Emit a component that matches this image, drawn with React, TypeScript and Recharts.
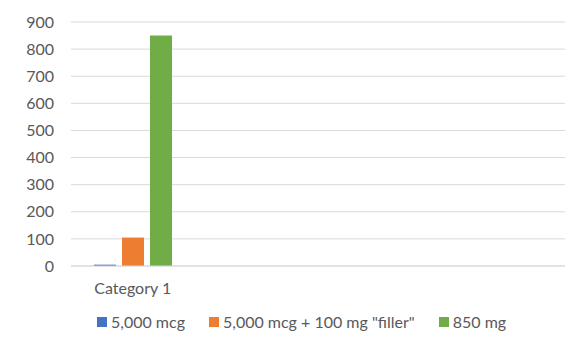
import React from "react";
import { BarChart, Bar, XAxis, YAxis, CartesianGrid, Legend } from "recharts";

const categories = ["Category 1", "", "", ""];
const seriesNames = ["5,000 mcg", "5,000 mcg + 100 mg \"filler\"", "850 mg"];
const mcg5000 = [5, null, null, null];
const mcg5000Filler = [105, null, null, null];
const mg850 = [850, null, null, null];
const yTicks = [0, 100, 200, 300, 400, 500, 600, 700, 800, 900];

const colors = ["#4472C4", "#ED7D31", "#70AD47"];
const keys = ["s0", "s1", "s2"];

const data = categories.map((c, i) => ({
  name: c,
  s0: mcg5000[i],
  s1: mcg5000Filler[i],
  s2: mg850[i],
}));

const FONT = "Lato, 'Open Sans', sans-serif";
const TEXT = "#595959";

const renderLegend = (props: any) => {
  const { payload } = props;
  return (
    <div style={{ display: "flex", alignItems: "center", fontFamily: FONT, fontSize: 16, color: TEXT }}>
      {payload.map((p: any, i: number) => (
        <div key={i} style={{ display: "flex", alignItems: "center", marginRight: 24, whiteSpace: "nowrap" }}>
          <span style={{ display: "inline-block", width: 10, height: 10, background: p.color, marginRight: 4 }} />
          <span>{p.value}</span>
        </div>
      ))}
    </div>
  );
};

export default function App() {
  return (
    <div style={{ position: "absolute", left: 0, top: 0, width: 577, height: 354, background: "#fff" }}>
      <BarChart
        width={577}
        height={354}
        data={data}
        margin={{ top: 22, right: 12, left: 0, bottom: 48 }}
        barSize={22}
        barGap={6}
      >
        <CartesianGrid vertical={false} stroke="#d9d9d9" />
        <XAxis
          dataKey="name"
          height={40}
          tickLine={false}
          axisLine={{ stroke: "#d9d9d9" }}
          tick={{ fill: TEXT, fontSize: 16, fontFamily: FONT }}
          tickMargin={11}
          interval={0}
        />
        <YAxis
          width={71}
          domain={[0, 900]}
          ticks={yTicks}
          tickLine={false}
          axisLine={false}
          tick={{ fill: TEXT, fontSize: 16, fontFamily: FONT }}
          tickMargin={11}
        />
        <Legend
          verticalAlign="middle"
          align="center"
          wrapperStyle={{ top: 312, left: 97, width: 470 }}
          content={renderLegend}
        />
        {keys.map((k, i) => (
          <Bar key={k} dataKey={k} name={seriesNames[i]} fill={colors[i]} isAnimationActive={false} />
        ))}
      </BarChart>
    </div>
  );
}
